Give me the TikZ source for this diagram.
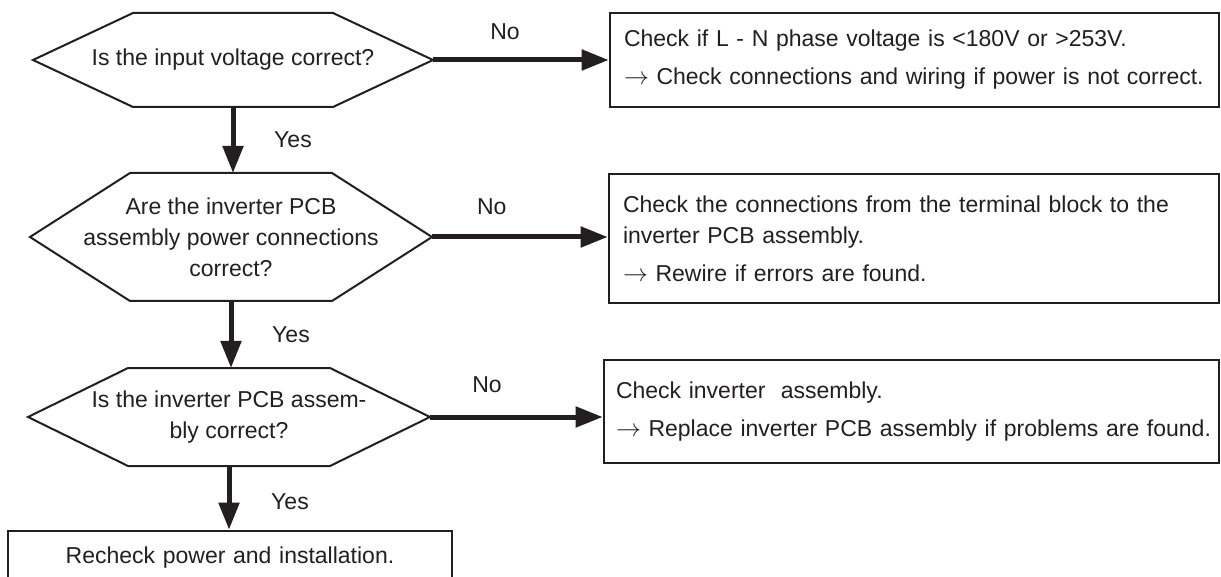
\documentclass[tikz,border=0pt]{standalone}
\usepackage{fontspec}
\setmainfont{Liberation Sans}
\usetikzlibrary{arrows.meta}
\definecolor{ink}{HTML}{231F20}
\tikzset{
  txt/.style={font=\fontsize{23}{31}\selectfont,text=ink},
  decn/.style={txt,align=center,inner sep=0pt,outer sep=0pt},   % text of a decision
  hexln/.style={line width=2pt,draw=ink,line join=miter},
  actbox/.style={txt,draw=ink,line width=2.6pt,align=left,inner xsep=14pt,inner ysep=0pt},
  flow/.style={-{Triangle[length=27pt,width=20pt]},line width=5pt,draw=ink},
  lbl/.style={txt,inner sep=0pt},
}

\begin{document}
\begin{tikzpicture}[x=1pt,y=-1pt]
  \useasboundingbox (0,0) rectangle (1221,577);
  % decisions
  \node[decn,minimum width=400pt,minimum height=94pt] (q1) at (233,60) {Is the input voltage correct?};
  \node[decn,minimum width=402pt,minimum height=128pt] (q2) at (231,237) {Are the inverter PCB\\assembly power connections\\correct?};
  \node[decn,minimum width=402pt,minimum height=98pt] (q3) at (229,417) {Is the inverter PCB assem-\\bly correct?};
  \foreach \n in {q1,q2,q3}{
    \draw[hexln] (\n.west) -- ([xshift=100pt]\n.north west) -- ([xshift=-100pt]\n.north east)
      -- (\n.east) -- ([xshift=-100pt]\n.south east) -- ([xshift=100pt]\n.south west) -- cycle;}
  % actions
  \node[actbox,text width=581pt,minimum height=94pt] (a1) at (914.5,60)
    {Check if L - N phase voltage is <180V or >253V.\\[7pt]$\rightarrow$ Check connections and wiring if power is not correct.};
  \node[actbox,text width=582pt,minimum height=129pt] (a2) at (914,238.5)
    {Check the connections from the terminal block to the\\inverter PCB assembly.\\[7pt]$\rightarrow$ Rewire if errors are found.};
  \node[actbox,inner xsep=12pt,text width=591pt,minimum height=103pt] (a3) at (911.5,411.5)
    {Check inverter\ \ assembly.\\[7pt]\mbox{$\rightarrow$ Replace inverter PCB assembly if problems are found.}};
  \node[actbox,align=center,text width=416pt,minimum height=54pt] (r4) at (230,558) {Recheck power and installation.};
  % no branches
  \draw[flow] (q1.east) -- (q1.east -| a1.west) node[lbl,pos=0.41,yshift=28pt]{No};
  \draw[flow] (q2.east) -- (q2.east -| a2.west) node[lbl,pos=0.34,yshift=30pt]{No};
  \draw[flow] (q3.east) -- (q3.east -| a3.west) node[lbl,pos=0.33,yshift=32pt]{No};
  % yes branches
  \draw[flow] (q1.south) -- (q1.south |- q2.north) node[lbl,midway,xshift=60pt]{Yes};
  \draw[flow] (q2.south) -- (q2.south |- q3.north) node[lbl,midway,xshift=60pt]{Yes};
  \draw[flow] (q3.south) -- (q3.south |- r4.north) node[lbl,midway,xshift=61pt,yshift=-4pt]{Yes};
\end{tikzpicture}
\end{document}
